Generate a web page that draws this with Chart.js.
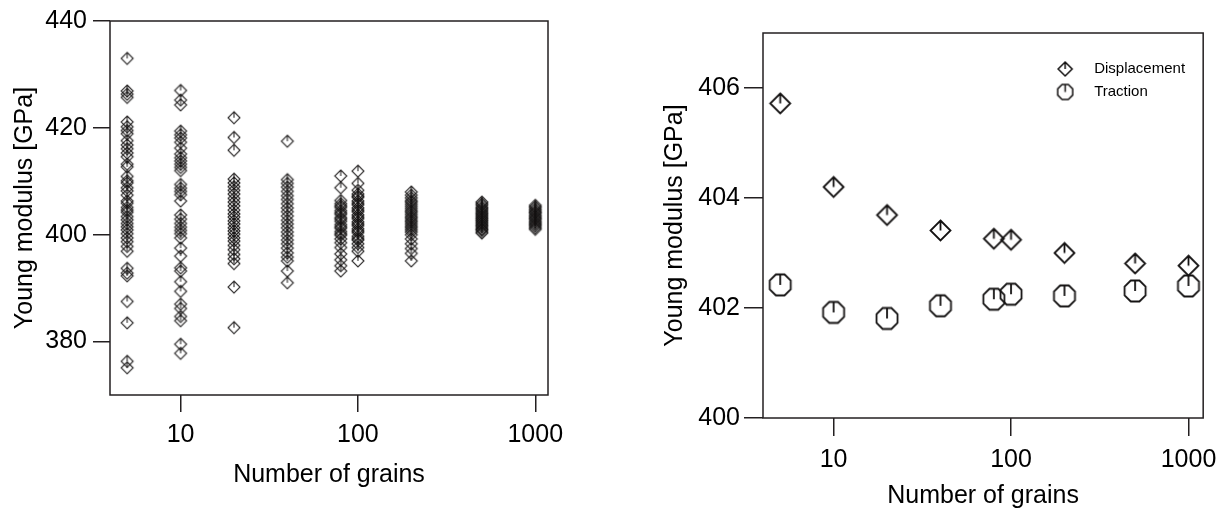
<!DOCTYPE html>
<html>
<head>
<meta charset="utf-8">
<script src="https://cdn.jsdelivr.net/npm/chart.js@4.4.1/dist/chart.umd.min.js"></script>
<style>
body { margin: 0; background: #fff; width: 1226px; height: 513px; overflow: hidden; position: relative; }
canvas { position: absolute; top: 0; }
</style>
</head>
<body>
<canvas id="leftChart" width="600" height="513" style="left:0"></canvas>
<canvas id="rightChart" width="626" height="513" style="left:600px"></canvas>
<script>
// grain counts (x axis)
let grainCounts = [5, 10, 20, 40, 80, 100, 200, 500, 1000];

// left panel: every realisation, one list per grain count
let samples5 = [433.0, 426.9, 426.3, 425.7, 421.1, 420.2, 419.5, 418.9, 417.6, 416.8, 416.1, 415.3, 414.6, 413.2, 412.7,
    410.9, 410.1, 409.7, 408.8, 408.2, 407.4, 406.3, 405.9, 405.1, 404.6, 404.2, 403.4, 402.8, 402.1, 401.5,
    400.9, 400.2, 399.4, 398.7, 397.8, 396.9, 393.7, 392.8, 392.3, 387.5, 383.5, 376.3, 375.1];
let samples10 = [427.0, 425.2, 424.3, 419.4, 418.7, 418.1, 417.3, 416.2, 415.1, 414.4, 413.8, 413.2, 412.6, 412.0,
    409.4, 408.7, 408.1, 407.5, 406.3, 403.7, 402.9, 402.1, 401.4, 400.8, 400.2, 399.4, 397.5, 396.0,
    393.8, 393.2, 391.2, 389.4, 387.0, 386.2, 384.7, 383.9, 379.5, 377.8];
let samples20 = [421.9, 418.2, 415.8, 410.4, 409.7, 409.0, 408.3, 407.6, 406.8, 406.1, 405.4, 404.6, 403.9, 403.3,
    402.6, 402.0, 401.3, 400.7, 400.1, 399.4, 398.8, 398.0, 397.2, 396.3, 395.5, 394.6, 390.2, 382.6];
let samples40 = [417.5, 410.3, 409.6, 408.9, 408.1, 407.3, 406.6, 405.8, 405.0, 404.3, 403.5, 402.7, 402.0, 401.3,
    400.5, 399.8, 399.0, 398.3, 397.5, 396.6, 395.8, 395.1, 393.2, 391.0];
let samples80 = [411.0, 408.8, 406.4, 405.8, 405.4, 405.1, 404.5, 404.1, 403.8, 403.2, 402.9, 402.5, 401.9, 401.5,
    401.2, 400.6, 400.2, 399.9, 399.2, 398.5, 397.6, 396.4, 395.3, 394.2, 393.2];
let samples100 = [411.9, 409.6, 408.3, 407.6, 407.2, 407.0, 406.3, 405.9, 405.6, 405.0, 404.6, 404.3, 403.7, 403.3,
    403.0, 402.4, 402.0, 401.7, 401.1, 400.7, 400.4, 399.7, 399.3, 399.0, 398.3, 397.6, 396.9, 395.1];
let samples200 = [408.0, 407.4, 406.9, 406.4, 406.1, 405.7, 405.3, 404.9, 404.5, 404.2, 403.8, 403.4, 403.1, 402.7,
    402.4, 402.0, 401.6, 401.3, 400.9, 400.5, 400.0, 399.2, 398.3, 397.4, 396.5, 395.1];
let samples500 = [406.1, 405.8, 405.5, 405.1, 404.9, 404.6, 404.3, 404.0, 403.8, 403.5, 403.2, 403.0, 402.7, 402.5,
    402.2, 401.9, 401.7, 401.4, 401.1, 400.9, 400.6, 400.3];
let samples1000 = [405.5, 405.2, 404.9, 404.6, 404.3, 404.1, 403.8, 403.5, 403.2, 403.0, 402.7, 402.4, 402.1, 401.9,
    401.6, 401.3, 401.0];
let allSamples = [samples5, samples10, samples20, samples40, samples80, samples100, samples200, samples500, samples1000];

// right panel: mean values
let displacementMean = [405.72, 404.20, 403.69, 403.41, 403.26, 403.24, 403.00, 402.81, 402.77];
let tractionMean = [402.42, 401.92, 401.81, 402.04, 402.16, 402.25, 402.22, 402.31, 402.40];

let xTicks = [10, 100, 1000];
let leftYTicks = [380, 400, 420, 440];
let rightYTicks = [400, 402, 404, 406];

let ink = "#231f20";
let fontFamily = "'Liberation Sans', Arial, sans-serif";

// MARKERS
function diamondMarker(size, lw, color) {
    let n = Math.ceil(size + lw * 2 + 1);
    let c = document.createElement("canvas");
    c.width = n; c.height = n;
    let g = c.getContext("2d");
    let m = n / 2, r = size / 2;
    g.strokeStyle = color;
    g.lineWidth = lw;
    g.beginPath();
    g.moveTo(m, m - r); g.lineTo(m + r, m); g.lineTo(m, m + r); g.lineTo(m - r, m); g.closePath();
    g.moveTo(m, m - r); g.lineTo(m, m);
    g.stroke();
    return c;
}

function octagonMarker(size, lw, color) {
    let n = Math.ceil(size + lw * 2 + 1);
    let c = document.createElement("canvas");
    c.width = n; c.height = n;
    let g = c.getContext("2d");
    let m = n / 2, r = size / 2 / Math.cos(Math.PI / 8);
    g.strokeStyle = color;
    g.lineWidth = lw;
    g.beginPath();
    for (let k = 0; k < 8; k++) {
        let a = Math.PI / 8 + k * Math.PI / 4;
        let px = m + r * Math.cos(a), py = m + r * Math.sin(a);
        if (k === 0) g.moveTo(px, py); else g.lineTo(px, py);
    }
    g.closePath();
    g.moveTo(m, m - size / 2); g.lineTo(m, m);
    g.stroke();
    return c;
}

let smallDiamond = diamondMarker(12, 1.1, "rgba(20,18,18,0.9)");
let bigDiamond = diamondMarker(20, 1.8, "#141212");
let bigOctagon = octagonMarker(21, 1.8, "#141212");
let legendMarks = [diamondMarker(14, 1.5, "#141212"), octagonMarker(15, 1.5, "#141212")];

// box round the plot area
let frame = {
    id: "frame",
    afterDraw(chart) {
        let a = chart.chartArea, ctx = chart.ctx;
        ctx.save();
        ctx.strokeStyle = ink;
        ctx.lineWidth = 1.5;
        ctx.strokeRect(a.left, a.top, a.right - a.left, a.bottom - a.top);
        ctx.restore();
    }
};

// move the legend to the upper right of the plot area
let legendSpot = {
    id: "legendSpot",
    afterLayout(chart) {
        let lg = chart.legend, a = chart.chartArea;
        if (!lg) return;
        lg.left = a.right - 167.5;
        lg.right = a.right;
        lg.top = a.top + 20.5;
        lg.bottom = a.bottom;
    }
};

function xAxis(min, max, height, tickLen, pad, titlePad) {
    return {
        type: "logarithmic", min: min, max: max,
        afterBuildTicks: s => { s.ticks = xTicks.map(v => ({value: v})); },
        afterFit: s => { s.height = height; },
        ticks: { callback: v => String(v), font: {size: 25, family: fontFamily}, color: "#000", padding: pad, maxRotation: 0, autoSkip: false },
        grid: { drawOnChartArea: false, tickLength: tickLen, color: ink, lineWidth: 1.5 },
        border: { display: false },
        title: { display: true, text: "Number of grains", font: {size: 25, family: fontFamily}, color: "#000", padding: {top: 0, bottom: titlePad} }
    };
}

function yAxis(min, max, ticks, width, tickLen, pad, titlePad) {
    return {
        min: min, max: max,
        afterBuildTicks: s => { s.ticks = ticks.map(v => ({value: v})); },
        afterFit: s => { s.width = width; },
        ticks: { font: {size: 25, family: fontFamily}, color: "#000", padding: pad },
        grid: { drawOnChartArea: false, tickLength: tickLen, color: ink, lineWidth: 1.5 },
        border: { display: false },
        title: { display: true, text: "Young modulus [GPa]", font: {size: 25, family: fontFamily}, color: "#000", padding: {top: titlePad, bottom: 0} }
    };
}

// LEFT CHART
let samplePoints = [];
allSamples.forEach((list, i) => {
    list.forEach(v => samplePoints.push({x: grainCounts[i], y: v}));
});

new Chart(document.getElementById("leftChart"), {
    type: "scatter",
    data: {
        datasets: [{
            label: "Samples",
            data: samplePoints,
            pointStyle: smallDiamond,
            pointRadius: 6
        }]
    },
    options: {
        responsive: false,
        animation: false,
        layout: { padding: {left: 0, top: 18, right: 52, bottom: 0} },
        plugins: { legend: {display: false}, tooltip: {enabled: false} },
        scales: {
            x: xAxis(4, 1180, 118, 17, 8, 23),
            y: yAxis(370, 440, leftYTicks, 110, 17, 6, 10)
        }
    },
    plugins: [frame]
});

// RIGHT CHART
new Chart(document.getElementById("rightChart"), {
    type: "scatter",
    data: {
        datasets: [
            {
                label: "Displacement",
                data: grainCounts.map((g, i) => ({x: g, y: displacementMean[i]})),
                pointStyle: bigDiamond,
                pointRadius: 10
            },
            {
                label: "Traction",
                data: grainCounts.map((g, i) => ({x: g, y: tractionMean[i]})),
                pointStyle: bigOctagon,
                pointRadius: 10
            }
        ]
    },
    options: {
        responsive: false,
        animation: false,
        layout: { padding: {left: 0, top: 33, right: 21, bottom: 0} },
        plugins: {
            tooltip: {enabled: false},
            legend: {
                position: "chartArea",
                align: "start",
                labels: {
                    usePointStyle: true,
                    pointStyleWidth: 43,
                    padding: 8,
                    color: "#000",
                    font: {size: 15, family: fontFamily},
                    generateLabels: chart => chart.data.datasets.map((d, i) => ({
                        text: d.label,
                        pointStyle: legendMarks[i],
                        fillStyle: "#000",
                        strokeStyle: "#000",
                        fontColor: "#000",
                        lineWidth: 0,
                        hidden: false,
                        datasetIndex: i
                    }))
                }
            }
        },
        scales: {
            x: xAxis(4, 1210, 95, 18, 9, 2),
            y: yAxis(400, 407, rightYTicks, 163, 19, 4, 60)
        }
    },
    plugins: [frame, legendSpot]
});
</script>
</body>
</html>
